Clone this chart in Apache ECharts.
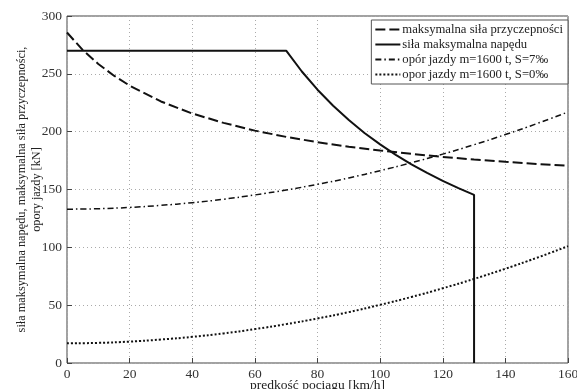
<!DOCTYPE html>
<html>
<head>
<meta charset="utf-8">
<script src="https://cdn.jsdelivr.net/npm/echarts@6/dist/echarts.min.js"></script>
<style>
  html, body { margin: 0; padding: 0; background: #fff; }
  #chart { width: 577px; height: 389px; }
</style>
</head>
<body>
<div id="chart"></div>
<script>
// predkosc [km/h] -> sila [kN]
const adhesionSpeed = [0, 5, 10, 15, 20, 30, 40, 50, 60, 70, 80, 90, 100, 110, 120, 130, 140, 150, 160]
const adhesionForce = [285.7, 270.7, 258.5, 248.4, 239.8, 226.1, 215.7, 207.6, 200.9, 195.5, 190.9, 187.0, 183.7, 180.8, 178.2, 175.9, 173.9, 172.1, 170.5]

const tractionSpeed = [0, 70, 75, 80, 85, 90, 95, 100, 105, 110, 115, 120, 125, 130, 130]
const tractionForce = [270, 270, 252, 236.3, 222.4, 210, 198.9, 189, 180, 171.8, 164.3, 157.5, 151.2, 145.4, 0]

const resistSpeed = [0, 10, 20, 30, 40, 50, 60, 70, 80, 90, 100, 110, 120, 130, 140, 150, 160]
const resist7 = [133, 133.4, 134.5, 136.3, 138.6, 141.6, 145.3, 149.6, 154.5, 160, 166.3, 173.1, 180.6, 188.7, 197.5, 206.9, 217]
const resist0 = [17, 17.4, 18.5, 20.3, 22.6, 25.6, 29.3, 33.6, 38.5, 44.0, 50.3, 57.1, 64.6, 72.7, 81.5, 90.9, 101]

const seriesNames = [
    'maksymalna siła przyczepności',
    'siła maksymalna napędu',
    'opór jazdy m=1600 t, S=7‰',
    'opor jazdy m=1600 t, S=0‰'
]

const zip = (xs, ys) => xs.map((x, i) => [x, ys[i]])

const font = 'Liberation Serif, Times New Roman, serif'
const chart = echarts.init(document.getElementById('chart'))

const option = {
    animation: false,
    textStyle: { fontFamily: font },
    grid: {
        left: 67, right: 9, top: 16, bottom: 26,
        outerBoundsMode: 'none',
        containLabel: false,
        show: true, borderColor: '#444', borderWidth: 1
    },
    legend: {
        orient: 'vertical',
        right: 9, top: 20,
        itemWidth: 25, itemHeight: 10, itemGap: 2,
        padding: [3, 5, 3, 3],
        backgroundColor: '#fff',
        borderColor: '#555', borderWidth: 1,
        itemStyle: { opacity: 0 },
        textStyle: { fontFamily: font, fontSize: 12.7, lineHeight: 13, color: '#222', padding: [0, 0, 0, -3] },
        data: seriesNames
    },
    xAxis: {
        type: 'value', min: 0, max: 160, interval: 20,
        name: 'predkość pociagu [km/h]',
        nameLocation: 'middle', nameGap: 15,
        nameMoveOverlap: false,
        nameTextStyle: { fontFamily: font, fontSize: 13.5, color: '#222' },
        axisLine: { show: false },
        axisTick: { inside: true, length: 5, lineStyle: { color: '#444' } },
        axisLabel: { fontFamily: font, fontSize: 13.5, color: '#333', margin: 4 },
        splitLine: { lineStyle: { type: [1, 3], color: '#aaa' } }
    },
    yAxis: {
        type: 'value', min: 0, max: 300, interval: 50,
        name: 'siła maksymalna napędu, maksymalna siła przyczepności,\nopory jazdy [kN]',
        nameLocation: 'middle', nameGap: 23,
        nameMoveOverlap: false,
        nameTextStyle: { fontFamily: font, fontSize: 12.3, color: '#222', lineHeight: 15 },
        axisLine: { show: false },
        axisTick: { inside: true, length: 5, lineStyle: { color: '#444' } },
        axisLabel: { fontFamily: font, fontSize: 13.5, color: '#333', margin: 5 },
        splitLine: { lineStyle: { type: [1, 3], color: '#aaa' } }
    },
    series: [
        {
            name: seriesNames[0], type: 'line', symbol: 'none',
            data: zip(adhesionSpeed, adhesionForce),
            lineStyle: { color: '#111', width: 2, type: [10, 4] },
            itemStyle: { color: '#111' }
        },
        {
            name: seriesNames[1], type: 'line', symbol: 'none',
            data: zip(tractionSpeed, tractionForce),
            lineStyle: { color: '#111', width: 2 },
            itemStyle: { color: '#111' }
        },
        {
            name: seriesNames[2], type: 'line', symbol: 'none', smooth: true,
            data: zip(resistSpeed, resist7),
            lineStyle: { color: '#111', width: 1.5, type: [6, 3, 1.5, 3] },
            itemStyle: { color: '#111' }
        },
        {
            name: seriesNames[3], type: 'line', symbol: 'none', smooth: true,
            data: zip(resistSpeed, resist0),
            lineStyle: { color: '#111', width: 2, type: [2, 2] },
            itemStyle: { color: '#111' }
        }
    ]
}

chart.setOption(option)
</script>
</body>
</html>
